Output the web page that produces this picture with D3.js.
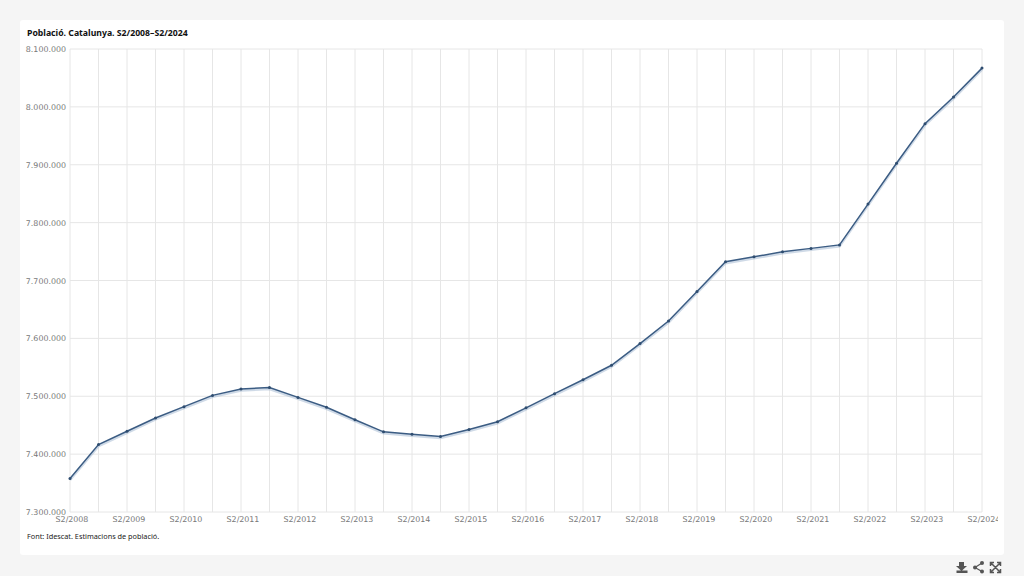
<!DOCTYPE html>
<html><head><meta charset="utf-8">
<script src="https://cdn.jsdelivr.net/npm/d3@7/dist/d3.min.js"></script>
<style>html,body{margin:0;padding:0;background:#f5f5f5;overflow:hidden}svg{display:block}</style>
</head><body><svg id="c" width="1024" height="576"></svg>
<script>
const periods = ["S2/2008","S1/2009","S2/2009","S1/2010","S2/2010","S1/2011","S2/2011","S1/2012","S2/2012","S1/2013","S2/2013","S1/2014","S2/2014","S1/2015","S2/2015","S1/2016","S2/2016","S1/2017","S2/2017","S1/2018","S2/2018","S1/2019","S2/2019","S1/2020","S2/2020","S1/2021","S2/2021","S1/2022","S2/2022","S1/2023","S2/2023","S1/2024","S2/2024"];
const population = [7358000,7416500,7439500,7462500,7482000,7501500,7512500,7515000,7498000,7481000,7459500,7438500,7434500,7430500,7442500,7456000,7480000,7504500,7528500,7553500,7591000,7630000,7681000,7732500,7741000,7749500,7755500,7761500,7832000,7902500,7971000,8017000,8067000];
const yTicks = [7300000,7400000,7500000,7600000,7700000,7800000,7900000,8000000,8100000];
const titleText = "Població. Catalunya. S2/2008–S2/2024";
const sourceText = "Font: Idescat. Estimacions de població.";
const svg = d3.select("#c");
const font = "'Noto Sans','Open Sans',sans-serif", tickFont = "'DejaVu Sans',sans-serif";
svg.append("rect").attr("x",20).attr("y",20).attr("width",984).attr("height",535).attr("rx",3).attr("fill","#fff");
const x = d3.scalePoint().domain(periods).range([70,982]);
const y = d3.scaleLinear().domain([7300000,8100000]).range([512,49]);
const fmt = d3.formatLocale({decimal:",",thousands:".",grouping:[3],currency:["","€"]}).format(",d");
const gy = svg.append("g").attr("transform","translate(70,0)").call(d3.axisLeft(y).tickValues(yTicks).tickFormat(fmt).tickSize(0).tickPadding(4));
gy.select(".domain").remove();
gy.selectAll("text").attr("font-family",tickFont).attr("font-size",7.9).attr("fill","#777");
svg.append("g").selectAll("line").data(yTicks).join("line").attr("x1",70).attr("x2",982).attr("y1",d=>y(d)).attr("y2",d=>y(d)).attr("stroke","#e6e6e6");
svg.append("g").selectAll("line").data(periods).join("line").attr("y1",49).attr("y2",512).attr("x1",d=>x(d)).attr("x2",d=>x(d)).attr("stroke","#e6e6e6");
const defs = svg.append("defs");
defs.append("clipPath").attr("id","cl").append("rect").attr("x",20).attr("y",20).attr("width",978).attr("height",535);
const gx = svg.append("g").attr("clip-path","url(#cl)").append("g").attr("transform","translate(1.5,512)").call(d3.axisBottom(x).tickValues(periods.filter((d,i)=>i%2===0)).tickSize(0).tickPadding(4));
gx.select(".domain").remove();
gx.selectAll("text").attr("font-family",tickFont).attr("font-size",7.9).attr("fill","#777");
const line = d3.line().x((d,i)=>x(periods[i])).y(d=>y(d));
svg.append("path").datum(population).attr("d",line).attr("fill","none").attr("stroke","#9fb6cf").attr("stroke-opacity",.5).attr("stroke-width",2.5).attr("transform","translate(0,1.5)");
svg.append("path").datum(population).attr("d",line).attr("fill","none").attr("stroke","#3b5c83").attr("stroke-width",1.5);
svg.append("g").selectAll("circle").data(population).join("circle").attr("cx",(d,i)=>x(periods[i])).attr("cy",d=>y(d)).attr("r",1.5).attr("fill","#2f4d70");
svg.append("text").attr("x",27).attr("y",36).attr("font-family",font).attr("font-weight",700).attr("font-size",8.7).attr("fill","#111").text(titleText);
svg.append("text").attr("x",27).attr("y",539).attr("font-family",font).attr("font-size",7.3).attr("fill","#222").text(sourceText);
const ic = svg.append("g").attr("fill","#555").attr("stroke","#555");
ic.append("path").attr("stroke","none").attr("d","M959 562h5v4h3l-5.500 5-5.500-5h3zM956.500 570.500h11v2.500h-11z");
ic.append("g").call(g=>{g.append("path").attr("fill","none").attr("stroke-width",1.2).attr("d","M982 563L975 567.500L982 571.500");[[982,563],[975,567.500],[982,571.500]].forEach(p=>g.append("circle").attr("cx",p[0]).attr("cy",p[1]).attr("r",2).attr("stroke","none"));});
ic.append("path").attr("fill","none").attr("stroke-width",1.5).attr("d","M991 563L1000 572M1000 563L991 572M990.500 566v-3.500h3.500M997 562.500h3.500v3.500M990.500 569v3.500h3.500M997 572.500h3.500v-3.500");
</script></body></html>
